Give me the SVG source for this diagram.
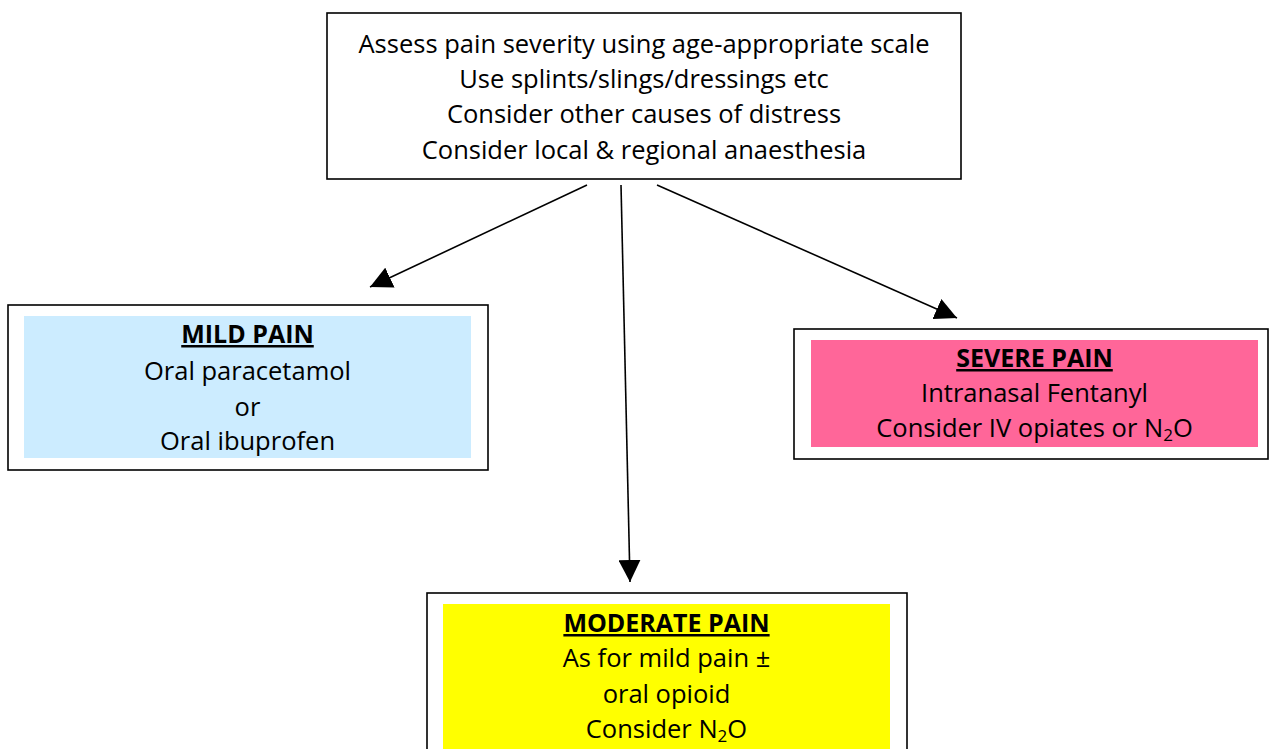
<svg xmlns="http://www.w3.org/2000/svg" width="1270" height="749" viewBox="0 0 1270 749">
<defs>
<marker id="ah" markerUnits="userSpaceOnUse" markerWidth="22" markerHeight="22" viewBox="0 0 21 21" refX="21" refY="10.5" orient="auto">
<path d="M0,0 L21,10.5 L0,21 z" fill="#000"/>
</marker>
<style>
.box{fill:#fff;stroke:#000;stroke-width:1.6}
.t{font-family:"Open Sans","Liberation Sans",sans-serif;font-size:25.5px;fill:#000;text-anchor:middle}
.h{font-weight:bold;text-decoration:underline;font-size:25px}
.c{stroke:#000;stroke-width:1.6;fill:none;marker-end:url(#ah)}
</style>
</defs>
<rect width="1270" height="749" fill="#fff"/>
<g id="assess">
<rect class="box" x="327" y="13" width="634" height="166"/>
<text class="t" x="644" y="53">Assess pain severity using age-appropriate scale</text>
<text class="t" x="644" y="88">Use splints/slings/dressings etc</text>
<text class="t" x="644" y="123">Consider other causes of distress</text>
<text class="t" x="644" y="159">Consider local &amp; regional anaesthesia</text>
</g>
<g id="connectors">
<line class="c" x1="587" y1="185" x2="370" y2="287"/>
<line class="c" x1="621" y1="185" x2="630" y2="582"/>
<line class="c" x1="657" y1="185" x2="957" y2="318"/>
</g>
<g id="mild">
<rect class="box" x="8" y="305" width="480" height="165"/>
<rect x="24" y="316" width="447" height="142" fill="#CCECFF"/>
<text class="t h" x="247.5" y="343">MILD PAIN</text>
<text class="t" x="247.5" y="380">Oral paracetamol</text>
<text class="t" x="247.5" y="416">or</text>
<text class="t" x="247.5" y="450">Oral ibuprofen</text>
</g>
<g id="severe">
<rect class="box" x="794" y="329" width="474" height="130"/>
<rect x="811" y="340" width="447" height="107" fill="#FF6699"/>
<text class="t h" x="1034.5" y="367">SEVERE PAIN</text>
<text class="t" x="1034.5" y="402">Intranasal Fentanyl</text>
<text class="t" x="1034.5" y="437">Consider IV opiates or N<tspan font-size="17" dy="4">2</tspan><tspan dy="-4">O</tspan></text>
</g>
<g id="moderate">
<rect class="box" x="427" y="593" width="480" height="170"/>
<rect x="443" y="604" width="447" height="145" fill="#FFFF00"/>
<text class="t h" x="666.5" y="632">MODERATE PAIN</text>
<text class="t" x="666.5" y="667">As for mild pain ±</text>
<text class="t" x="666.5" y="703">oral opioid</text>
<text class="t" x="666.5" y="738">Consider N<tspan font-size="17" dy="4">2</tspan><tspan dy="-4">O</tspan></text>
</g>
</svg>
